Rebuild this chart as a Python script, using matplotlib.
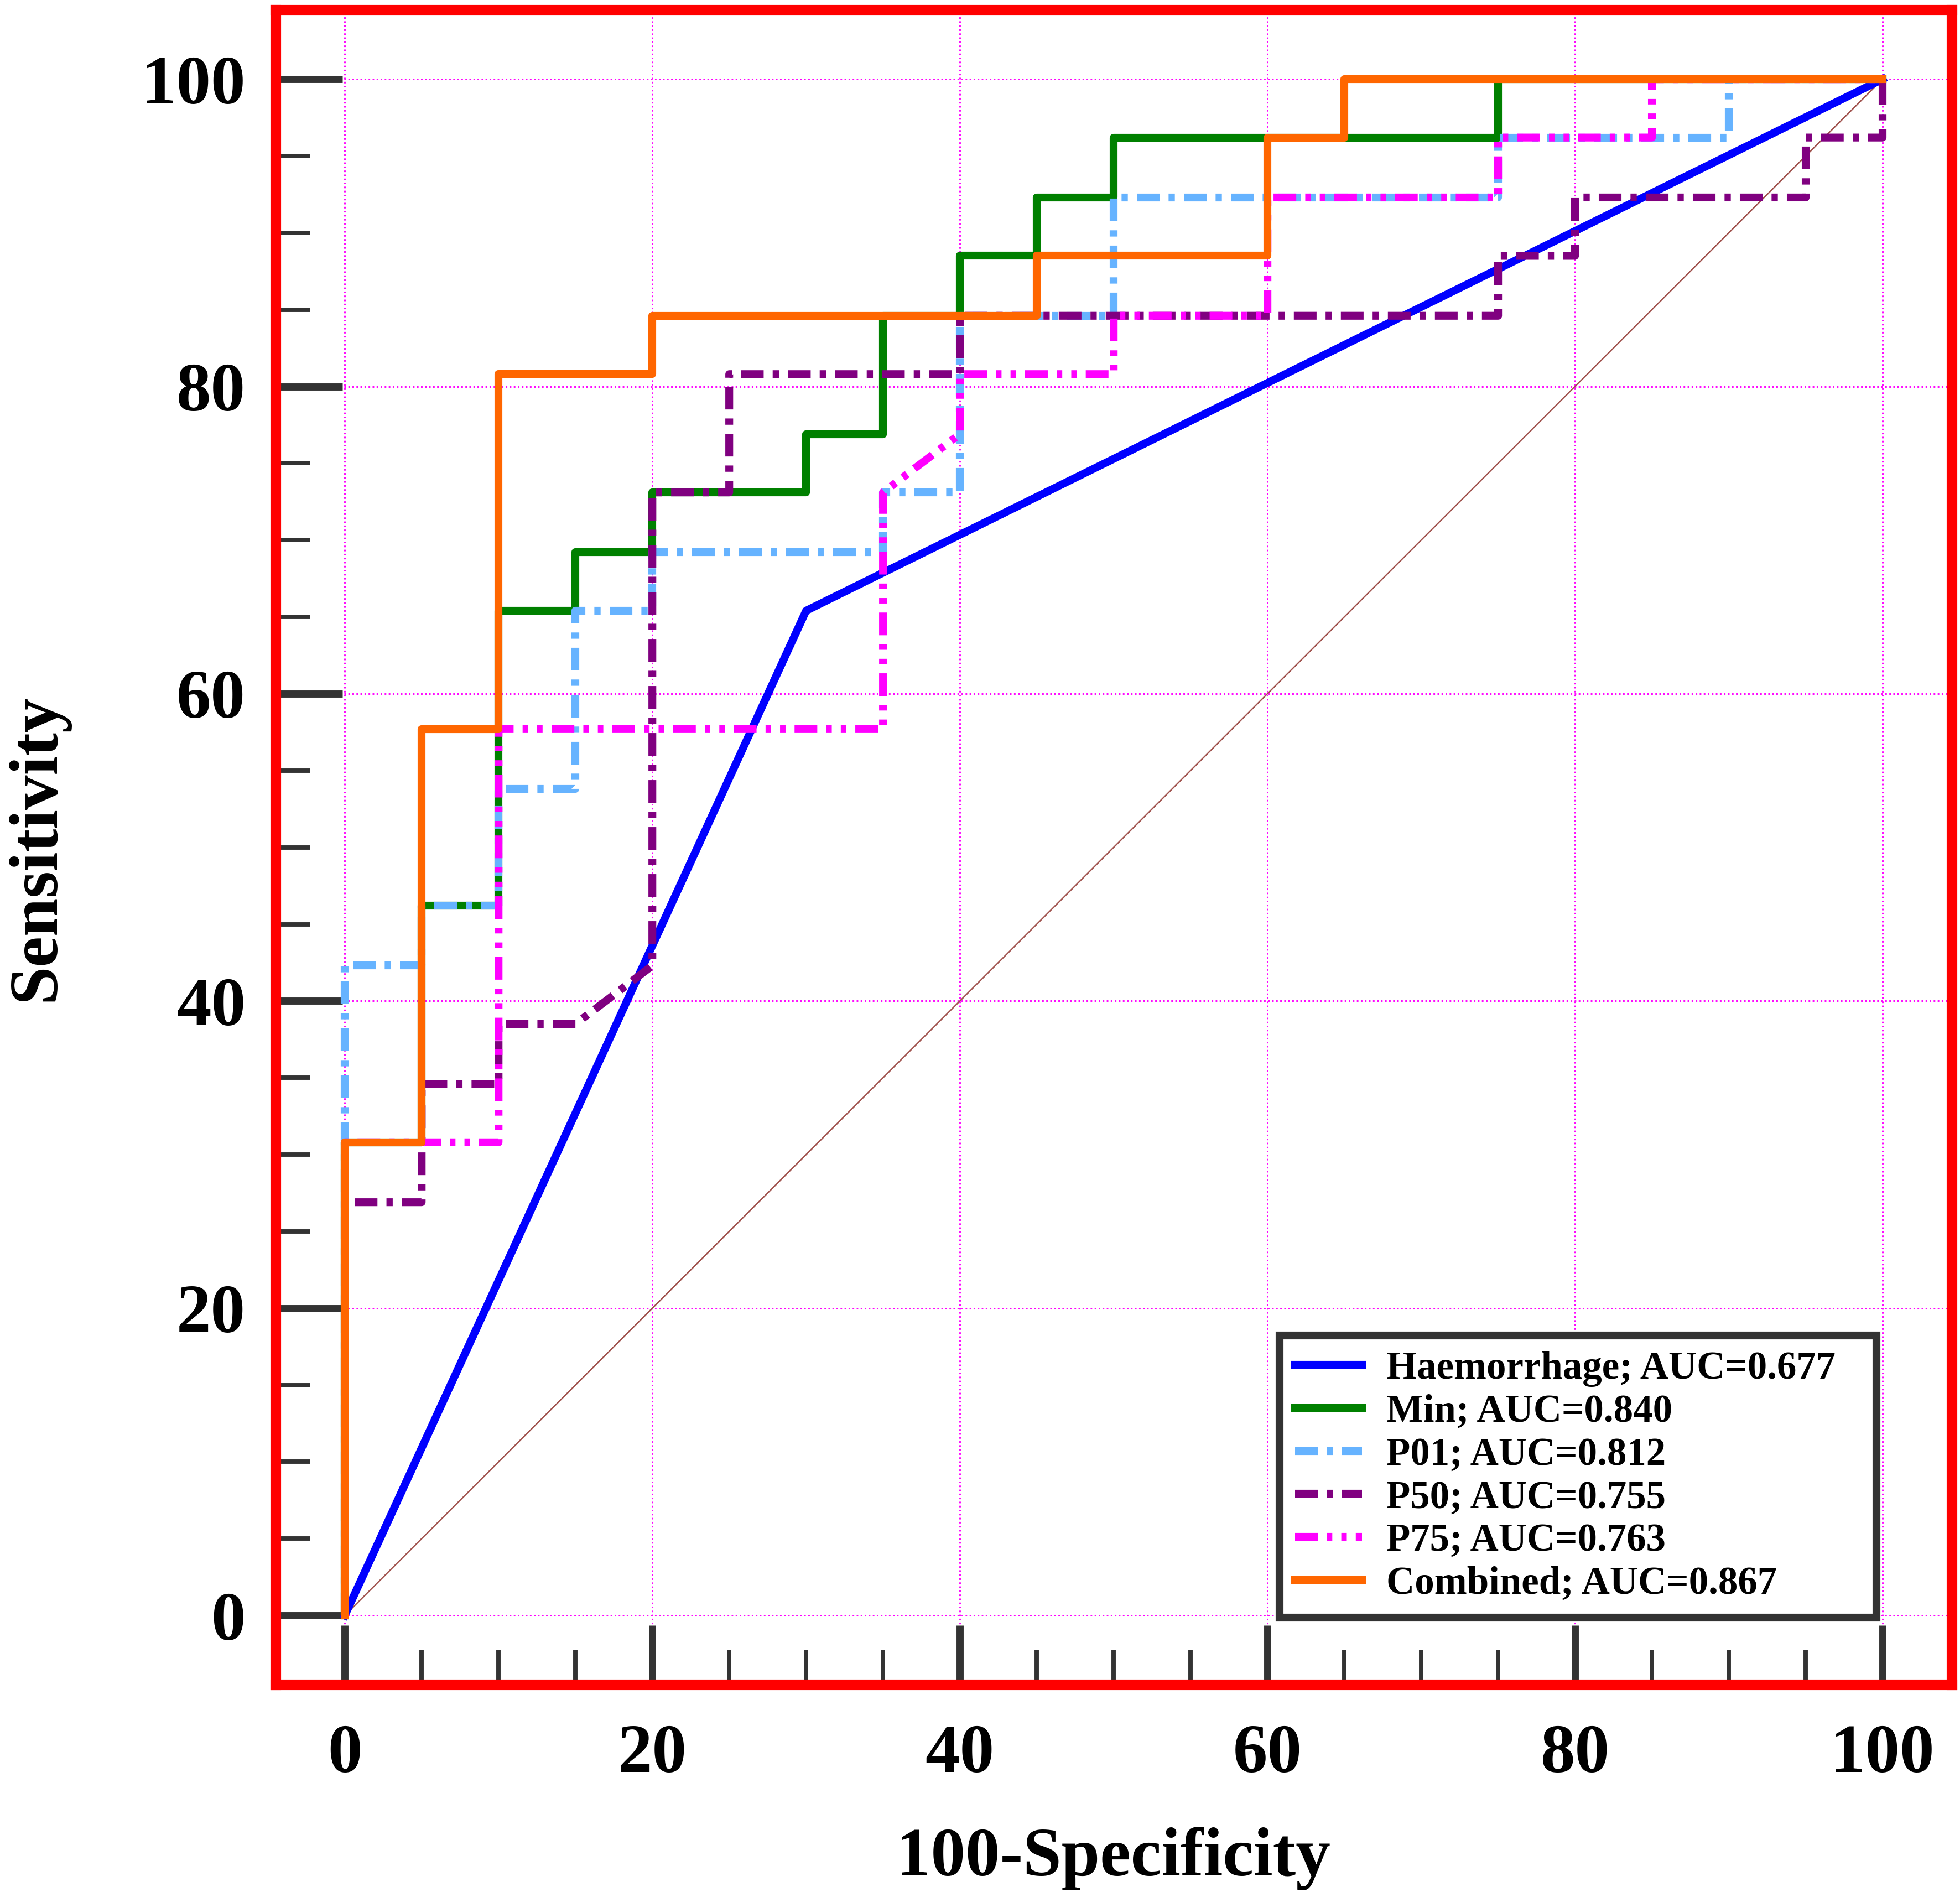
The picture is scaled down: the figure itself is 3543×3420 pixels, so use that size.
import matplotlib
matplotlib.use("Agg")
import matplotlib.pyplot as plt

plt.rcParams['font.family'] = ['Liberation Serif', 'DejaVu Serif']
plt.rcParams['font.weight'] = 'bold'

# ROC curves, 100-specificity (x) vs sensitivity (y)
haem_x = [0, 30, 100]
haem_y = [0, 65.4, 100]

min_x = [0, 0, 5, 5, 10, 10, 15, 15, 20, 20, 30, 30, 35, 35, 40, 40, 45, 45, 50, 50, 75, 75, 100]
min_y = [0, 30.8, 30.8, 46.2, 46.2, 65.4, 65.4, 69.2, 69.2, 73.1, 73.1, 76.9, 76.9, 84.6, 84.6,
         88.5, 88.5, 92.3, 92.3, 96.2, 96.2, 100, 100]

p01_x = [0, 0, 5, 5, 10, 10, 15, 15, 20, 20, 35, 35, 40, 40, 50, 50, 75, 75, 90, 90, 100]
p01_y = [0, 42.3, 42.3, 46.2, 46.2, 53.8, 53.8, 65.4, 65.4, 69.2, 69.2, 73.1, 73.1, 84.6, 84.6,
         92.3, 92.3, 96.2, 96.2, 100, 100]

p50_x = [0, 0, 5, 5, 10, 10, 15, 20, 20, 25, 25, 40, 40, 75, 75, 80, 80, 95, 95, 100, 100]
p50_y = [0, 26.9, 26.9, 34.6, 34.6, 38.5, 38.5, 42.3, 73.1, 73.1, 80.8, 80.8, 84.6, 84.6, 88.5,
         88.5, 92.3, 92.3, 96.2, 96.2, 100]

p75_x = [0, 0, 10, 10, 35, 35, 40, 40, 50, 50, 60, 60, 75, 75, 85, 85, 100]
p75_y = [0, 30.8, 30.8, 57.7, 57.7, 73.1, 76.9, 80.8, 80.8, 84.6, 84.6, 92.3, 92.3, 96.2, 96.2,
         100, 100]

comb_x = [0, 0, 5, 5, 10, 10, 20, 20, 45, 45, 60, 60, 65, 65, 100]
comb_y = [0, 30.8, 30.8, 57.7, 57.7, 80.8, 80.8, 84.6, 84.6, 88.5, 88.5, 96.2, 96.2, 100, 100]

labels = ['Haemorrhage; AUC=0.677', 'Min; AUC=0.840', 'P01; AUC=0.812',
          'P50; AUC=0.755', 'P75; AUC=0.763', 'Combined; AUC=0.867']

fig = plt.figure(figsize=(11.81, 11.4), dpi=300)
ax = fig.add_axes([0.1406, 0.1096, 0.8552, 0.8851])

lw = 3.4
# reference diagonal
ax.plot([0, 100], [0, 100], color='#A0524D', lw=0.6, zorder=2)
ax.plot(haem_x, haem_y, color='#0000FF', lw=lw, label=labels[0], zorder=3)
ax.plot(min_x, min_y, color='#008000', lw=lw, label=labels[1], zorder=3)
ax.plot(p01_x, p01_y, color='#66B3FF', lw=lw, label=labels[2], zorder=3,
        dashes=[2.9, 1.15, 0.8, 1.15])
ax.plot(p50_x, p50_y, color='#800080', lw=lw, label=labels[3], zorder=3,
        dashes=[2.9, 1.15, 0.8, 1.15])
ax.plot(p75_x, p75_y, color='#FF00FF', lw=lw, label=labels[4], zorder=3,
        dashes=[2.9, 1.15, 0.7, 1.15, 0.7, 1.15])
ax.plot(comb_x, comb_y, color='#FF6600', lw=lw, label=labels[5], zorder=3)

ax.set_xlim(-4.5, 104.5)
ax.set_ylim(-4.5, 104.5)
ax.set_xticks(range(0, 101, 20))
ax.set_yticks(range(0, 101, 20))
ax.set_xticks(range(0, 101, 5), minor=True)
ax.set_yticks(range(0, 101, 5), minor=True)

ax.grid(True, which='major', color='#FF00FF', lw=0.7, linestyle=(0, (1, 1.5)), zorder=1)

for s in ax.spines.values():
    s.set_color('#FF0000')
    s.set_linewidth(4.6)
    s.set_zorder(5)

ax.tick_params(axis='both', which='both', direction='in', color='#333333',
               labelsize=30, labelcolor='black')
ax.tick_params(axis='y', which='major', length=29, width=3.1, pad=13)
ax.tick_params(axis='x', which='major', length=25.7, width=3.1, pad=17)
ax.tick_params(axis='both', which='minor', length=15, width=1.9)
for t in ax.get_xticklabels() + ax.get_yticklabels():
    t.set_fontweight('bold')

fig.text(0.568, 0.0088, '100-Specificity', fontsize=30, fontweight='bold',
         ha='center', va='baseline')
fig.text(0.0274, 0.552, 'Sensitivity', fontsize=30, fontweight='bold', rotation=90,
         rotation_mode='anchor', ha='center', va='baseline')

leg = ax.legend(loc='lower left', bbox_to_anchor=(0.599, 0.040, 0.356, 0.2), mode='expand',
                borderaxespad=0, fontsize=17, handlelength=1.7, handletextpad=0.63,
                labelspacing=0.18, borderpad=0.4, fancybox=False, framealpha=1)
leg.get_frame().set_edgecolor('#333333')
leg.get_frame().set_linewidth(3.4)
leg.set_zorder(6)

fig.savefig('out.png', dpi=300)
